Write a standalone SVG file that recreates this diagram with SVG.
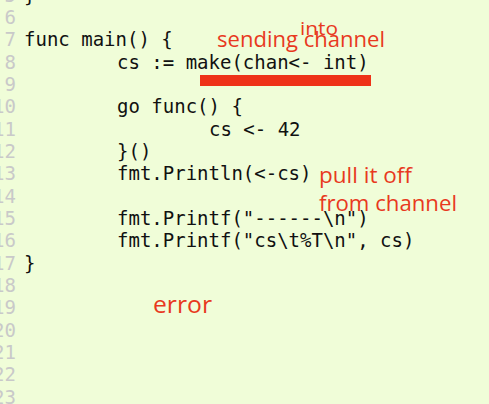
<svg xmlns="http://www.w3.org/2000/svg" width="489" height="404" viewBox="0 0 489 404">
<style>
.ln{font-family:"DejaVu Sans Mono",monospace;font-size:19px;fill:#c9c9c9;text-anchor:end}
.code{font-family:"DejaVu Sans Mono",monospace;font-size:19px;fill:#111;white-space:pre}
.note{font-family:"Open Sans","DejaVu Sans",sans-serif;fill:#e8391e}
</style>
<rect width="489" height="404" fill="#f0fdd8"/>
<g id="line-numbers">
<text class="ln" x="16" y="1.5">5</text>
<text class="ln" x="16" y="24">6</text>
<text class="ln" x="16" y="46">7</text>
<text class="ln" x="16" y="68.5">8</text>
<text class="ln" x="16" y="91">9</text>
<text class="ln" x="16" y="113">10</text>
<text class="ln" x="16" y="135.5">11</text>
<text class="ln" x="16" y="158">12</text>
<text class="ln" x="16" y="180">13</text>
<text class="ln" x="16" y="202.5">14</text>
<text class="ln" x="16" y="225">15</text>
<text class="ln" x="16" y="247">16</text>
<text class="ln" x="16" y="269.5">17</text>
<text class="ln" x="16" y="292">18</text>
<text class="ln" x="16" y="314">19</text>
<text class="ln" x="16" y="336.5">20</text>
<text class="ln" x="16" y="359">21</text>
<text class="ln" x="16" y="381">22</text>
<text class="ln" x="16" y="403.5">23</text>
</g>
<g id="code">
<text class="code" x="24" y="1.5">}</text>
<text class="code" x="24" y="46">func main() {</text>
<text class="code" x="117" y="68.5">cs := make(chan&lt;- int)</text>
<text class="code" x="117" y="113">go func() {</text>
<text class="code" x="209" y="135.5">cs &lt;- 42</text>
<text class="code" x="117" y="158">}()</text>
<text class="code" x="117" y="180">fmt.Println(&lt;-cs)</text>
<text class="code" x="117" y="225">fmt.Printf("------\n")</text>
<text class="code" x="117" y="247">fmt.Printf("cs\t%T\n", cs)</text>
<text class="code" x="24" y="269.5">}</text>
</g>
<g id="annotations">
<rect x="200" y="75" width="171" height="11" fill="#ee3218"/>
<text class="note" x="217" y="47" font-size="22" textLength="168" lengthAdjust="spacingAndGlyphs">sending channel</text>
<text class="note" x="300" y="35" font-size="19" textLength="38" lengthAdjust="spacingAndGlyphs">into</text>
<text class="note" x="319" y="183" font-size="22" textLength="93" lengthAdjust="spacingAndGlyphs">pull it off</text>
<text class="note" x="319" y="211" font-size="22" textLength="138" lengthAdjust="spacingAndGlyphs">from channel</text>
<text class="note" x="153" y="313" font-size="24" textLength="59" lengthAdjust="spacingAndGlyphs">error</text>
</g>
</svg>
